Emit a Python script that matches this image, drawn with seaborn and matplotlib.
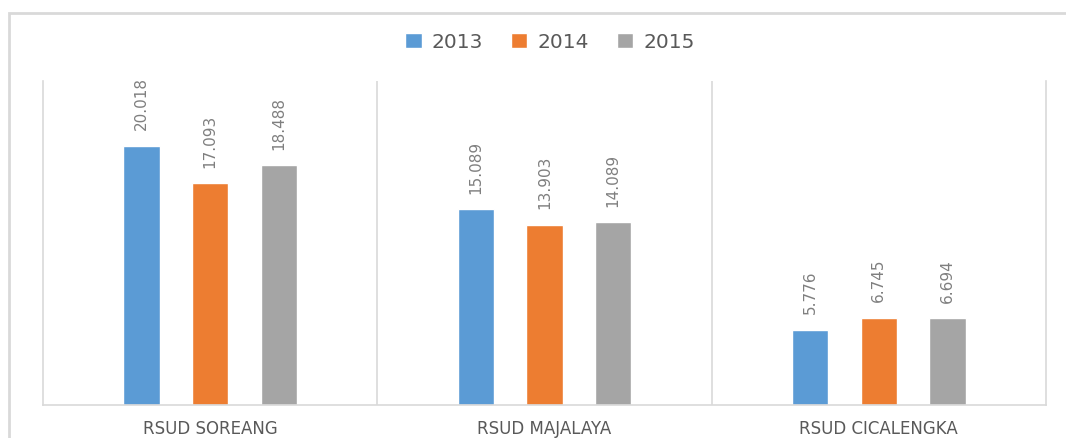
import matplotlib
matplotlib.use("Agg")
import matplotlib.pyplot as plt
import seaborn as sns
import pandas as pd
from matplotlib.patches import Rectangle

categories = ["RSUD SOREANG", "RSUD MAJALAYA", "RSUD CICALENGKA"]
years = ["2013", "2014", "2015"]
values_2013 = [20.018, 15.089, 5.776]
values_2014 = [17.093, 13.903, 6.745]
values_2015 = [18.488, 14.089, 6.694]
labels_2013 = ["20.018", "15.089", "5.776"]
labels_2014 = ["17.093", "13.903", "6.745"]
labels_2015 = ["18.488", "14.089", "6.694"]

colors = ["#5B9BD5", "#ED7D31", "#A5A5A5"]

rows = []
for y, vals in zip(years, [values_2013, values_2014, values_2015]):
    for c, v in zip(categories, vals):
        rows.append({"cat": c, "year": y, "value": v})
df = pd.DataFrame(rows)

sns.set_theme(style="white")
plt.rcParams['font.family'] = ['DejaVu Sans']

fig = plt.figure(figsize=(10.66, 4.39), dpi=100)
ax = fig.add_axes([43/1066, 1-406/439, 1003/1066, 324/439])

# outer chart border (only left and top visible)
fig.patches.append(Rectangle((9/1066, -0.2), 1.5, 1.2 - 14/439, transform=fig.transFigure,
                             fill=False, edgecolor="#D9D9D9", linewidth=2, zorder=0))

sns.barplot(data=df, x="cat", y="value", hue="year", palette=colors, order=categories,
            hue_order=years, width=0.615, gap=0.47, ax=ax, legend=True, saturation=1)

ax.set_ylim(0, 25)
ax.set_xlim(-0.5, 2.5)
ax.set_xlabel("")
ax.set_ylabel("")
ax.set_yticks([])
for s in ["left", "right", "bottom"]:
    ax.spines[s].set_color("#D9D9D9")
    ax.spines[s].set_linewidth(1.2)
ax.spines["top"].set_visible(False)
for xv in [0.5, 1.5]:
    ax.axvline(xv, color="#D9D9D9", linewidth=1.2, zorder=0)

ax.tick_params(axis="x", length=0, pad=10, labelsize=12, labelcolor="#595959")

for cont, labs in zip(ax.containers, [labels_2013, labels_2014, labels_2015]):
    ax.bar_label(cont, labels=labs, rotation=90, padding=12, fontsize=11, color="#7F7F7F")

handles, lbls = ax.get_legend_handles_labels()
ax.legend(handles, lbls, loc="center", bbox_to_anchor=(550/1066, 1-43/439),
          bbox_transform=fig.transFigure, ncol=3, frameon=False, fontsize=14.5,
          labelcolor="#595959", handlelength=0.8, handleheight=0.8, handletextpad=0.5,
          columnspacing=1.4)

fig.savefig("out.png", dpi=100)
